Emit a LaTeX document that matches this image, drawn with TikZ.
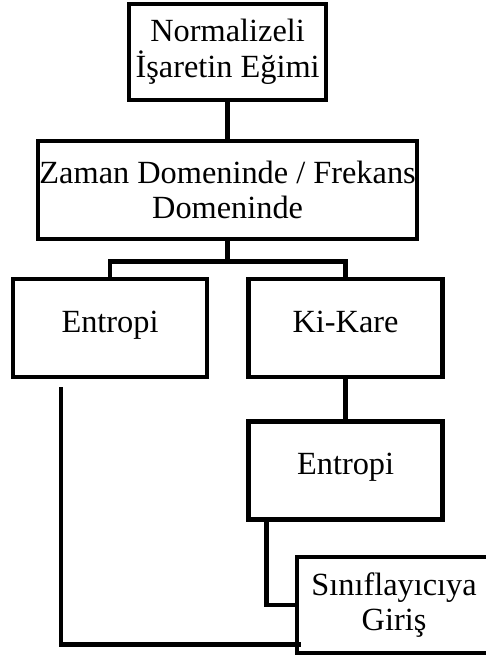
\documentclass[tikz,border=0pt]{standalone}
\usepackage{fontspec}
\setmainfont{Liberation Serif}

\tikzset{
kutu/.style={draw, line width=3.4pt, inner sep=0pt, align=center,
minimum width=4.85cm, minimum height=2.45cm,
font=\fontsize{23}{25.5}\selectfont},
tek/.style={text height=1.7ex, text depth=0.3ex},
bag/.style={line width=3.4pt}
}

\begin{document}
\begin{tikzpicture}

\useasboundingbox (0,0) rectangle (12.125,-16.375);

% Kutular
\node[kutu, minimum width=4.925cm, minimum height=2.4cm] (norm) at (5.69,-1.3)
{Normalizeli\\İşaretin Eğimi};

\node[kutu, minimum width=9.475cm] (zaman) at (5.69,-4.75)
{Zaman Domeninde / Frekans\\Domeninde};

\node[kutu, tek] (entropi) at (2.75,-8.2)
{Entropi};

\node[kutu, tek] (kikare) at (8.64,-8.2)
{Ki-Kare};

\node[kutu, tek] (entropiB) at (8.64,-11.76)
{Entropi};

\node[kutu, minimum height=2.4cm] (giris) at (9.85,-15.125)
{Sınıflayıcıya\\Giriş};

% Baglantilar
\draw[bag] (norm.south) -- (zaman.north);

\draw[bag] (zaman.south) -- ++(0,-0.5) coordinate (ayrim);
\draw[bag] (entropi.north) |- (ayrim) -| (kikare.north);

\draw[bag] (kikare.south) -- (entropiB.north);

\draw[bag] ([xshift=0.5cm]entropiB.south west) |- (giris.west);

\draw[bag] ([shift={(-1.225,-0.2)}]entropi.south)
|- ([shift={(0.15,0.275)}]giris.south west);

\end{tikzpicture}
\end{document}
